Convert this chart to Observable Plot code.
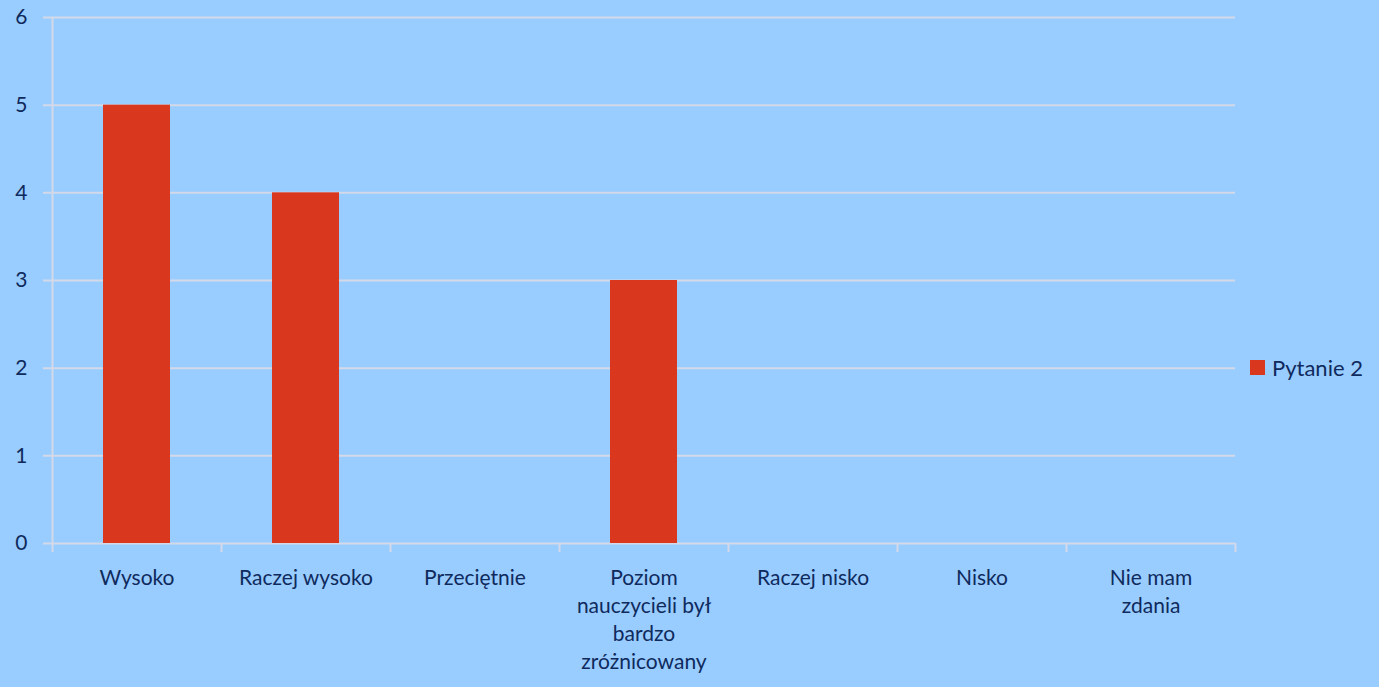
<!DOCTYPE html>
<html>
<head>
<meta charset="utf-8">
<script src="https://cdn.jsdelivr.net/npm/d3@7"></script>
<script src="https://cdn.jsdelivr.net/npm/@observablehq/plot@0.6"></script>
<style>
  html, body { margin: 0; padding: 0; background: #99CCFF; }
  #wrap { position: relative; width: 1379px; height: 687px; overflow: hidden; }
  #legend { position: absolute; left: 1250px; top: 354px; font-family: Lato, "Open Sans", sans-serif; font-size: 22px; color: #0f2a5c; display: flex; align-items: center; white-space: nowrap; }
  #legend .sw { width: 15px; height: 15px; background: #D9381E; margin-right: 7px; }
</style>
</head>
<body>
<div id="wrap">
  <div id="chart"></div>
  <div id="legend"><span class="sw"></span><span id="legtext"></span></div>
</div>
<script>
const categories = ["Wysoko", "Raczej wysoko", "Przeciętnie", "Poziom nauczycieli był bardzo zróżnicowany", "Raczej nisko", "Nisko", "Nie mam zdania"];
const tickLabels = ["Wysoko", "Raczej wysoko", "Przeciętnie", "Poziom\nnauczycieli był\nbardzo\nzróżnicowany", "Raczej nisko", "Nisko", "Nie mam\nzdania"];
const values = [5, 4, 0, 3, 0, 0, 0];
const seriesName = "Pytanie 2";
const yTicks = [0, 1, 2, 3, 4, 5, 6];

const data = categories.map((c, i) => ({category: c, label: tickLabels[i], idx: i, value: values[i]}));
const boundaries = d3.range(categories.length + 1);

const gridColor = "#d3d9e8";
const textColor = "#0f2a5c";
const barColor = "#D9381E";

const chart = Plot.plot({
  width: 1379,
  height: 687,
  marginLeft: 52,
  marginRight: 144,
  marginTop: 17,
  marginBottom: 144,
  style: {background: "transparent", fontFamily: "Lato, 'Open Sans', sans-serif", fontSize: "21px", color: textColor},
  x: {type: "linear", domain: [0, categories.length], axis: null},
  y: {domain: [0, 6], axis: null},
  marks: [
    Plot.ruleY(yTicks, {y: d => d, stroke: gridColor, strokeWidth: 2, insetLeft: -9}),
    Plot.ruleX([0], {y1: 0, y2: 6, stroke: gridColor, strokeWidth: 2}),
    Plot.axisX({ticks: boundaries, tickSize: 9, tickFormat: () => "", stroke: gridColor, strokeWidth: 2}),
    Plot.axisY({ticks: yTicks, tickSize: 0, tickPadding: 25, tickFormat: "d", label: null, fill: textColor, fontSize: 21}),
    Plot.rectY(data, {x1: d => d.idx, x2: d => d.idx + 1, y1: 0, y2: "value", fill: barColor, insetLeft: 51, insetRight: 51}),
    Plot.text(data, {x: d => d.idx + 0.5, y: 0, text: "label", lineAnchor: "top", dy: 22, lineHeight: 1.33, fill: textColor, fontSize: 21})
  ]
});
document.getElementById("chart").appendChild(chart);
document.getElementById("legtext").textContent = seriesName;
</script>
</body>
</html>
